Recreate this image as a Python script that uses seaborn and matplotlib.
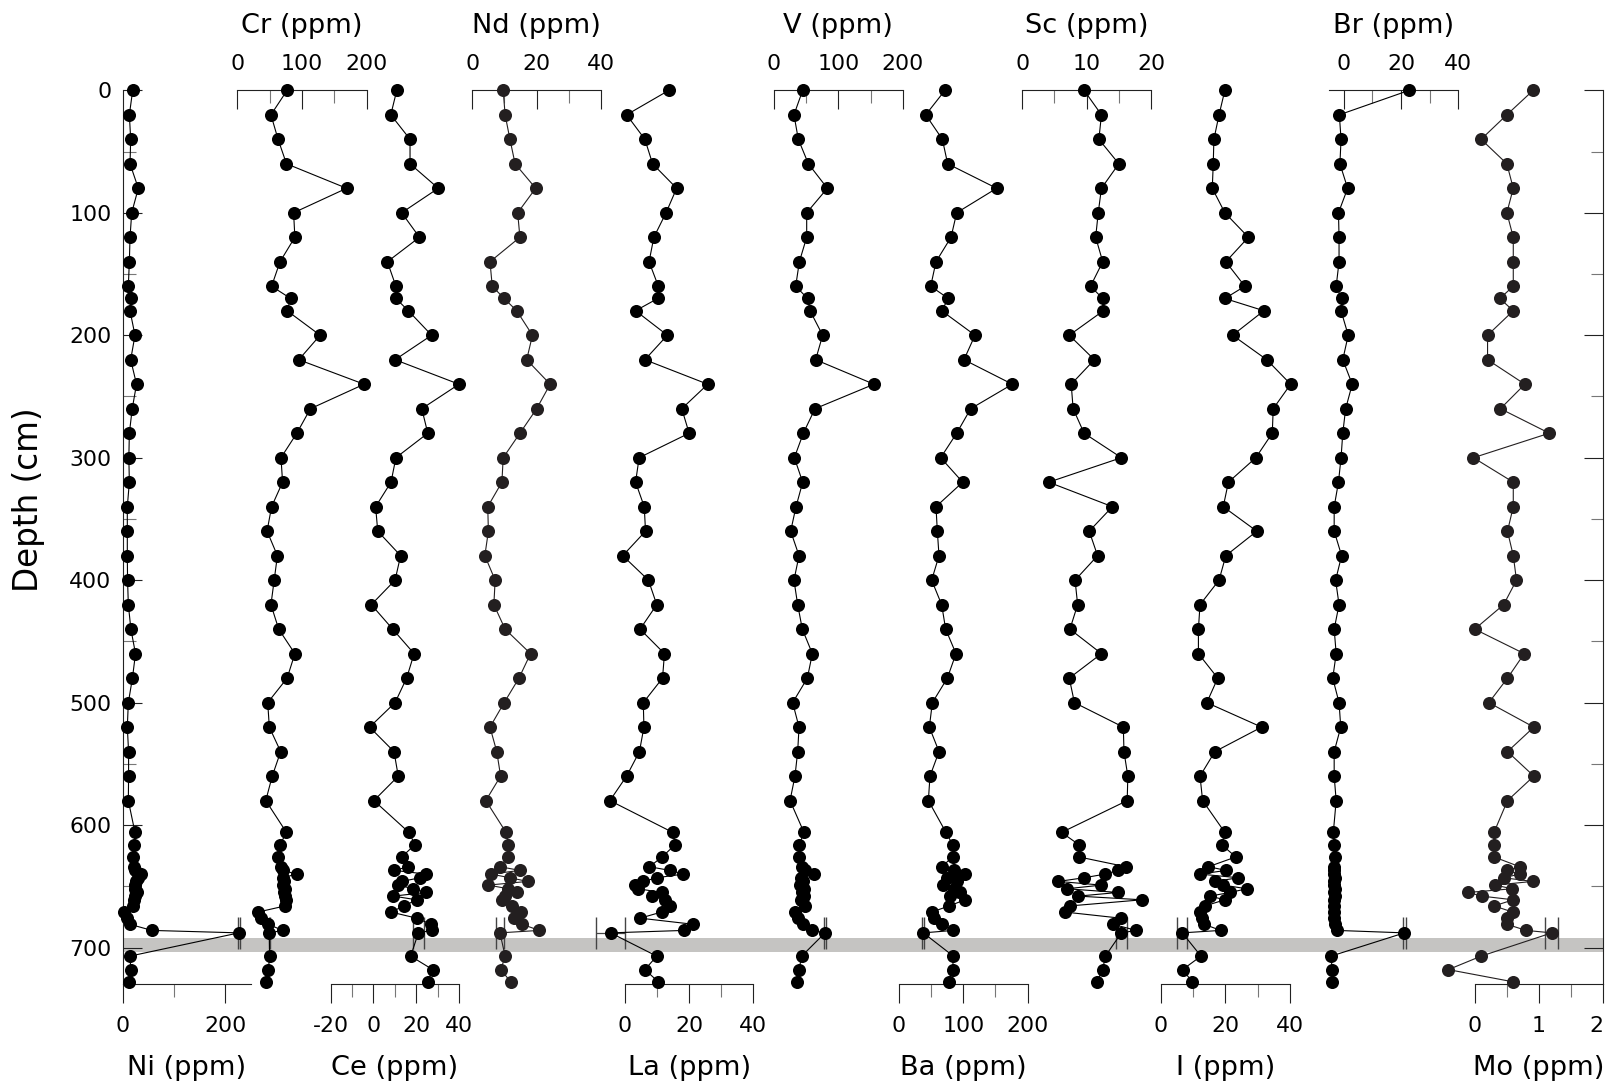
import matplotlib
matplotlib.use("Agg")
import matplotlib.pyplot as plt
import matplotlib.transforms as mtransforms
import seaborn as sns

# sample depths (cm)
depth = [0, 20, 40, 60, 80, 100, 120, 140, 160, 170, 180, 200, 220, 240, 260, 280, 300,
         320, 340, 360, 380, 400, 420, 440, 460, 480, 500, 520, 540, 560, 580,
         606, 616, 626, 634, 637, 640, 643, 646, 649, 652, 655, 658, 661, 666, 671, 676,
         681, 686, 688, 707, 718, 728]

ni = [19.5, 13, 15.6, 14.3, 30.5, 17.6, 14.3, 13, 11, 15.6, 14.3, 24, 15.6, 27, 18.6, 13, 12,
      13, 9, 9, 9, 9.5, 11, 16, 25, 19, 11, 9, 11.5, 11.5, 11,
      24, 23, 21, 22, 25, 35, 30, 26, 24, 25, 27, 25, 22, 20, 2, 8, 14, 57, 227,
      14, 16, 13]
cr = [77, 52, 63, 76, 169, 87, 89, 66, 53, 82.5, 77, 128, 95, 196, 113, 92, 67.5,
      70, 53, 46, 62, 57, 52, 64, 89, 77, 47, 49.5, 67, 54, 44,
      76, 66, 63, 68, 70, 92, 70, 72, 71, 73, 72, 74, 75, 74, 32, 36, 48, 70, 49.5,
      50, 48, 45]
ce = [10.9, 8.1, 17.1, 17.1, 30.3, 13.2, 21.5, 6.5, 10.5, 10.5, 16.3, 27.2, 10.1, 40, 22.6, 25.4, 10.5,
      8.2, 1.0, 2.0, 12.7, 10.1, -1.0, 9.0, 19.0, 15.5, 10.1, -1.8, 9.6, 11.6, 0.2,
      16.6, 19.4, 13.2, 16.3, 9.8, 24.6, 21.8, 13.2, 11.6, 18.6, 24.6, 9.3, 20.2, 14.3, 8.2, 20.2,
      26.9, 27.2, 21.0,
      17.4, 27.7, 25.4]
nd = [9.6, 10.2, 11.7, 13.3, 19.7, 14.1, 14.8, 5.5, 6.2, 9.9, 13.8, 18.7, 16.9, 24.2, 20, 14.8, 9.6,
      9.2, 4.8, 5.0, 3.9, 7.1, 6.7, 10.2, 18.1, 14.5, 9.9, 5.5, 7.6, 8.8, 4.2,
      10.5, 11.2, 11.2, 8.6, 14.8, 5.8, 11.7, 17.2, 5.0, 11.2, 13.8, 10.2, 9.1, 12.2, 15, 13,
      15.5, 20.8, 8.6,
      10.2, 8.9, 11.9]
la = [13.7, 0.5, 6.2, 8.6, 16.1, 12.8, 9.0, 7.5, 10.4, 10.2, 3.3, 13.2, 6.2, 25.8, 17.7, 20, 4.4,
      3.3, 6.0, 6.4, -0.7, 7.3, 9.9, 4.7, 12.3, 11.7, 5.7, 5.9, 4.5, 0.5, -4.7,
      14.9, 15.6, 11.6, 7.6, 14.0, 18.2, 9.9, 5.7, 3.1, 4.1, 11.4, 8.3, 12.5, 14.0, 11.4, 4.7,
      21.3, 18.5, -4.5,
      9.9, 6.2, 10.4]
v = [44.6, 31, 37.8, 53.4, 82.9, 50.8, 50.8, 39.4, 33.7, 52.3, 56, 75.6, 64.7, 155.4, 63.7, 45.6, 31.6,
     44.6, 34.2, 25.9, 38.9, 31, 36.8, 44, 59.6, 51.8, 29, 38.9, 36.8, 32.6, 24.9,
     46.6, 39.4, 39.4, 43, 48, 62.2, 42, 45, 40, 47, 44, 46, 42, 48, 32.6, 37.8, 45.6, 58.5, 79.3,
     43, 38.9, 36.3]
ba = [71.8, 41.9, 67.7, 75.9, 151.9, 89.9, 81.1, 57.8, 49.6, 77, 66.6, 118.3, 101.2, 176.2, 111.6, 89.9, 65.1,
      99.2, 57.8, 59.9, 62.5, 51.1, 66.6, 72.8, 88.8, 75.4, 52.2, 47.5, 62.5, 48.5, 46,
      73.3, 83.7, 83.7, 66.6, 85, 102.8, 75, 90, 68, 85, 95, 80, 102.8, 78.4, 51.1, 55, 67.6, 84.7, 38.2,
      84.7, 83.7, 78.4]
sc = [9.6, 12.3, 11.9, 15.0, 12.3, 11.8, 11.4, 12.5, 10.6, 12.5, 12.6, 7.3, 11.2, 7.6, 7.9, 9.6, 15.4,
      4.1, 14.0, 10.4, 11.7, 8.2, 8.6, 7.4, 12.3, 7.3, 8.1, 15.7, 15.8, 16.4, 16.3,
      6.1, 8.8, 8.8, 16.1, 14.9, 12.9, 9.6, 5.6, 12.3, 6.9, 14.9, 8.7, 18.6, 7.4, 6.6, 15.3, 14.1, 17.7, 15.4,
      12.9, 12.5, 11.6]
iod = [19.8, 18, 16.4, 16.2, 15.9, 19.8, 27.1, 20.1, 26, 19.8, 31.9, 22.2, 32.8, 40.2, 34.8, 34.5, 29.4,
       20.9, 19.3, 29.7, 20.1, 18, 12.1, 11.6, 11.6, 17.6, 14.2, 31.2, 16.7, 12.1, 12.9,
       19.8, 18.8, 23.2, 14.7, 20.2, 12.1, 24, 16.7, 19.3, 26.6, 21.4, 15.2, 19.8, 13.6, 12.0, 12.6,
       13.4, 18.5, 6.6,
       12.4, 6.7, 9.7]
br = [22.9, -1.5, -0.9, -1.3, 1.4, -1.8, -1.6, -1.6, -2.6, -0.7, -0.9, 1.6, -0.3, 3.0, 0.7, -0.3, -0.9,
      -1.8, -3.3, -3.3, -0.7, -2.8, -1.6, -3.3, -2.6, -3.8, -1.6, -1.0, -3.3, -3.3, -2.6,
      -3.6, -3.3, -3.1, -3.3, -3.5, -3.2, -3.0, -3.4, -3.2, -3.0, -3.3, -3.1, -3.4, -3.2, -3.5, -3.3,
      -3.0, -2.4, 21.2,
      -4.4, -4.0, -4.2]
mo = [0.91, 0.50, 0.10, 0.50, 0.60, 0.50, 0.60, 0.60, 0.60, 0.39, 0.60, 0.20, 0.20, 0.78, 0.40, 1.16, -0.02,
      0.60, 0.60, 0.51, 0.60, 0.65, 0.45, 0.0, 0.77, 0.51, 0.22, 0.92, 0.51, 0.92, 0.51,
      0.30, 0.30, 0.30, 0.70, 0.50, 0.70, 0.45, 0.90, 0.32, 0.58, -0.10, 0.11, 0.60, 0.30, 0.59, 0.50,
      0.50, 0.80, 1.20,
      0.10, -0.41, 0.60]

# analytical error on the 688 cm sample
err_depth = 688
err = {"Ni": 2, "Cr": 1, "Ce": 2.6, "Nd": 1.3, "La": 4.5, "V": 2, "Ba": 1.5,
       "Sc": 0.9, "I": 1.6, "Br": 0.5, "Mo": 0.1}

sns.set_style("ticks")
plt.rcParams["font.family"] = ["DejaVu Sans"]
plt.rcParams["axes.unicode_minus"] = False
plt.rcParams["xtick.labelsize"] = 15.8
plt.rcParams["ytick.labelsize"] = 15.8
plt.rcParams["text.color"] = "black"
plt.rcParams["xtick.labelcolor"] = "black"
plt.rcParams["ytick.labelcolor"] = "black"

W, H = 1608, 1090
fig = plt.figure(figsize=(W / 100, H / 100), dpi=100)
y_top, y_bot = 90.3, 984.3
bottom = 1 - y_bot / H
height = (y_bot - y_top) / H


def px_axes(x0, x1):
    return fig.add_axes([x0 / W, bottom, (x1 - x0) / W, height])


# depth frame
main = px_axes(122.7, 1603.3)
main.set_xlim(0, 1)
main.set_ylim(730, 0)
main.axhspan(692, 704, color="#c5c4c2", lw=0, zorder=0)
main.set_xticks([])
main.set_yticks(range(0, 701, 100))
main.set_yticks(range(50, 700, 100), minor=True)
main.tick_params(axis="y", which="both", direction="in", left=True, right=True,
                 labelleft=True, labelright=False, pad=8, labelcolor="black")
main.tick_params(axis="y", which="major", length=13.5, width=0.8, color="#222")
main.tick_params(axis="y", which="minor", length=9, width=0.8, color="#777")
for s in ["top", "bottom"]:
    main.spines[s].set_visible(False)
for s in ["left", "right"]:
    main.spines[s].set_linewidth(0.8)
    main.spines[s].set_color("#222")
fig.text(28.5 / W, 1 - 500 / H, "Depth (cm)", rotation=90, ha="center", va="center",
         fontsize=23.5, color="black")

# name, values, side, xlim, major ticks, minor ticks, pixel span, colour
panels = [
    ("Ni", ni, "bottom", (0, 250), [0, 200], [100], (122.7, 250.7), "black"),
    ("Cr", cr, "top", (0, 200), [0, 100, 200], [50, 150], (237.3, 366.7), "black"),
    ("Ce", ce, "bottom", (-20, 40), [-20, 0, 20, 40], [-10, 10, 30], (330.7, 459.0), "black"),
    ("Nd", nd, "top", (0, 40), [0, 20, 40], [10, 30], (472.3, 601.0), "#231f20"),
    ("La", la, "bottom", (0, 40), [0, 20, 40], [10, 30], (625.0, 753.3), "black"),
    ("V", v, "top", (0, 200), [0, 100, 200], [50, 150], (774.0, 902.7), "black"),
    ("Ba", ba, "bottom", (0, 200), [0, 100, 200], [50, 150], (898.7, 1027.7), "black"),
    ("Sc", sc, "top", (0, 20), [0, 10, 20], [5, 15], (1022.3, 1151.0), "black"),
    ("I", iod, "bottom", (0, 40), [0, 20, 40], [10, 30], (1161.0, 1290.0), "black"),
    ("Br", br, "top", (-5, 40), [0, 20, 40], [10, 30], (1329.3, 1458.3), "black"),
    ("Mo", mo, "bottom", (0, 2), [0, 1, 2], [0.5, 1.5], (1474.7, 1603.3), "#231f20"),
]

for name, vals, side, xlim, major, minor, (x0, x1), col in panels:
    ax = px_axes(x0, x1)
    ax.set_facecolor("none")
    sns.lineplot(x=vals, y=depth, orient="y", estimator=None, sort=False, color=col,
                 lw=0.8, marker="o", markersize=9.4, markeredgewidth=0,
                 clip_on=False, ax=ax, zorder=3)
    i = depth.index(err_depth)
    eb = ax.errorbar([vals[i]], [err_depth], xerr=[err[name]], fmt="none", ecolor="#444",
                     elinewidth=0.9, capsize=11.5, capthick=1.0, zorder=2)
    for a in eb.get_children():
        a.set_clip_on(False)
    ax.set_xlim(*xlim)
    ax.set_ylim(730, 0)
    ax.set_xlabel("")
    ax.set_ylabel("")
    ax.yaxis.set_visible(False)
    ax.spines["left"].set_visible(False)
    ax.spines["right"].set_visible(False)
    ax.set_xticks(major)
    ax.set_xticks(minor, minor=True)
    tr = mtransforms.blended_transform_factory(ax.transAxes, fig.transFigure)
    if side == "top":
        ax.spines["bottom"].set_visible(False)
        ax.xaxis.tick_top()
        ax.tick_params(axis="x", which="both", direction="in", top=True, bottom=False,
                       labeltop=True, labelbottom=False, pad=12)
        ax.text(0.5, 1 - 26 / H, f"{name} (ppm)", transform=tr, ha="center", va="center",
                fontsize=19.6, color="black")
    else:
        ax.spines["top"].set_visible(False)
        ax.tick_params(axis="x", which="both", direction="out", pad=9.5)
        ax.text(0.5, 1 - 1068 / H, f"{name} (ppm)", transform=tr, ha="center", va="center",
                fontsize=19.6, color="black")
    ax.tick_params(axis="x", which="major", length=13.5, width=0.8, color="#222",
                   labelcolor="black")
    ax.tick_params(axis="x", which="minor", length=9, width=0.8, color="#777")
    for s in ["top", "bottom"]:
        ax.spines[s].set_linewidth(0.8)
        ax.spines[s].set_color("#222")
    if name == "Mo":
        # the "2" sits at the canvas edge, so draw it right-aligned on the tick
        ax.set_xticklabels(["0", "1", ""])
        trd = mtransforms.blended_transform_factory(ax.transData, fig.transFigure)
        ax.text(2, 1 - 1016.5 / H, "2", transform=trd, ha="right", va="top",
                fontsize=15.8, color="black")

fig.savefig("out.png", dpi=100)
